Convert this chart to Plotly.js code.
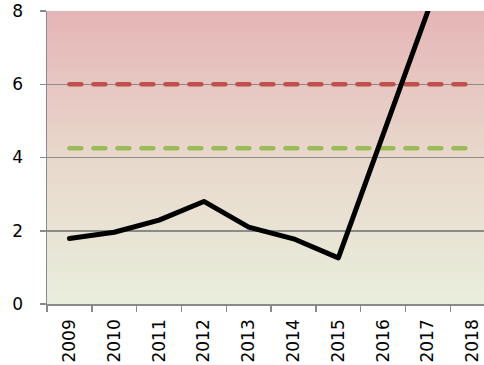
<!DOCTYPE html>
<html>
<head>
<meta charset="utf-8">
<script src="https://cdn.plot.ly/plotly-3.0.1.min.js"></script>
<style>
html,body{margin:0;padding:0;background:#fff;overflow:hidden;}
#chart{width:484px;height:365px;}
.js-line{stroke-linejoin:round;stroke-linecap:round;}
</style>
</head>
<body>
<div id="chart"></div>
<script>
const years = ['2009','2010','2011','2012','2013','2014','2015','2016','2017','2018'];
const values = [1.79, 1.96, 2.29, 2.80, 2.10, 1.78, 1.26, 4.61, 8.0, null];
const redLevel = 6;
const greenLevel = 4.25;
const yTicks = [0, 2, 4, 6, 8];

const gradSvg = '<svg xmlns="http://www.w3.org/2000/svg" width="10" height="100" preserveAspectRatio="none">' +
  '<defs><linearGradient id="g" x1="0" y1="0" x2="0" y2="1">' +
  '<stop offset="0" stop-color="#e5b5b6"/>' +
  '<stop offset="0.5" stop-color="#e8d8cc"/>' +
  '<stop offset="1" stop-color="#e9eedc"/>' +
  '</linearGradient></defs><rect width="10" height="100" fill="url(#g)"/></svg>';
const gradUri = 'data:image/svg+xml;base64,' + btoa(gradSvg);

const traces = [
  {
    x: years, y: years.map(() => redLevel), type: 'scatter', mode: 'lines',
    line: {color: '#c0504d', width: 4.5, dash: '12px,12px'}, hoverinfo: 'skip'
  },
  {
    x: years, y: years.map(() => greenLevel), type: 'scatter', mode: 'lines',
    line: {color: '#9bbb59', width: 4.5, dash: '12px,12px'}, hoverinfo: 'skip'
  },
  {
    x: years, y: values, type: 'scatter', mode: 'lines',
    line: {color: '#000000', width: 5}, connectgaps: false
  }
];

const layout = {
  width: 484, height: 365,
  margin: {l: 47, r: 0, t: 11, b: 61, pad: 0},
  paper_bgcolor: '#ffffff',
  plot_bgcolor: 'rgba(0,0,0,0)',
  showlegend: false,
  images: [{
    source: gradUri, xref: 'paper', yref: 'paper', x: 0, y: 1, sizex: 1, sizey: 1,
    xanchor: 'left', yanchor: 'top', sizing: 'stretch', layer: 'below'
  }],
  xaxis: {
    type: 'category', range: [-0.5, 9.25],
    tickangle: -90, tickson: 'boundaries',
    ticks: 'outside', ticklen: 6, tickcolor: '#8a8a8a', tickwidth: 1.5,
    showline: true, linecolor: '#8a8a8a', linewidth: 1.5,
    showgrid: false, zeroline: false,
    tickfont: {family: 'DejaVu Sans', size: 17, color: '#000'},
    ticklabelstandoff: 7
  },
  yaxis: {
    range: [0, 8], tickvals: yTicks, ticktext: yTicks.map(String),
    ticks: 'outside', ticklen: 6, tickcolor: '#8a8a8a', tickwidth: 1.5,
    showline: true, linecolor: '#8a8a8a', linewidth: 1.5,
    showgrid: true, gridcolor: '#8a8a8a', gridwidth: 1.5,
    zeroline: false,
    tickfont: {family: 'DejaVu Sans', size: 17, color: '#000'},
    ticklabelstandoff: 13
  }
};

Plotly.newPlot('chart', traces, layout, {staticPlot: true, displayModeBar: false});
</script>
</body>
</html>
